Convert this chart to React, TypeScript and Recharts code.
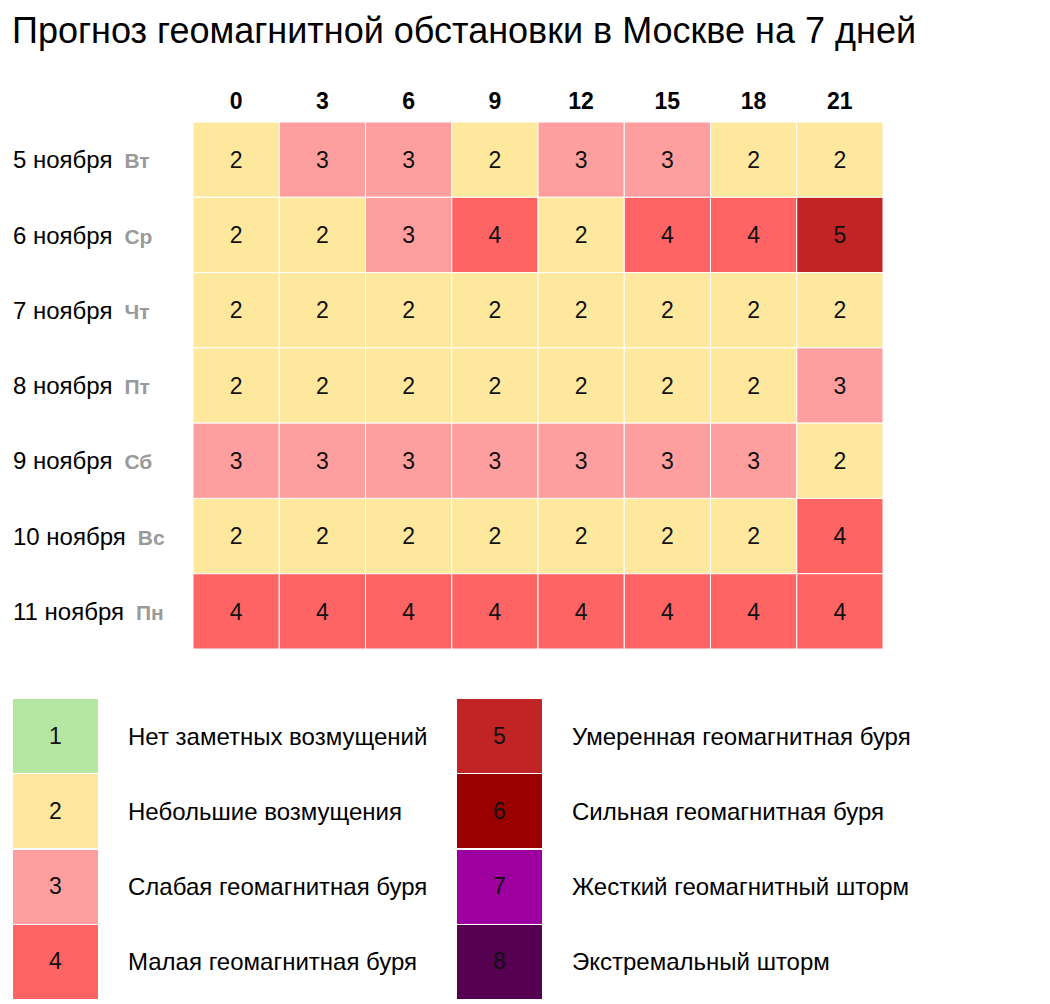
import { ScatterChart, Scatter, XAxis, YAxis } from "recharts";

const hours = [0, 3, 6, 9, 12, 15, 18, 21];
const dates = ["5 ноября", "6 ноября", "7 ноября", "8 ноября", "9 ноября", "10 ноября", "11 ноября"];
const weekdays = ["Вт", "Ср", "Чт", "Пт", "Сб", "Вс", "Пн"];

const nov5 = [2, 3, 3, 2, 3, 3, 2, 2];
const nov6 = [2, 2, 3, 4, 2, 4, 4, 5];
const nov7 = [2, 2, 2, 2, 2, 2, 2, 2];
const nov8 = [2, 2, 2, 2, 2, 2, 2, 3];
const nov9 = [3, 3, 3, 3, 3, 3, 3, 2];
const nov10 = [2, 2, 2, 2, 2, 2, 2, 4];
const nov11 = [4, 4, 4, 4, 4, 4, 4, 4];
const rows = [nov5, nov6, nov7, nov8, nov9, nov10, nov11];

const levels = [1, 2, 3, 4, 5, 6, 7, 8];
const levelNames = [
  "Нет заметных возмущений",
  "Небольшие возмущения",
  "Слабая геомагнитная буря",
  "Малая геомагнитная буря",
  "Умеренная геомагнитная буря",
  "Сильная геомагнитная буря",
  "Жесткий геомагнитный шторм",
  "Экстремальный шторм",
];
const levelColors = ["#b5e6a2", "#fee89e", "#ff9e9e", "#ff6464", "#c12424", "#9b0000", "#9d009f", "#560052"];

const data = rows.flatMap((vals, r) => vals.map((v, c) => ({ col: c, row: r, value: v })));

const FONT = "'Liberation Sans', Arial, Helvetica, sans-serif";
const W = 1050;
const H = 700;
const margin = { top: 82, right: 167, bottom: 51, left: 0 };
const yAxisW = 193;
const xAxisH = 40;
const cellW = (W - margin.left - margin.right - yAxisW) / hours.length;
const cellH = (H - margin.top - margin.bottom - xAxisH) / dates.length;

function Cell(props: any) {
  const { cx, cy, payload } = props;
  return (
    <g>
      <rect
        x={cx - cellW / 2}
        y={cy - cellH / 2}
        width={cellW}
        height={cellH}
        fill={levelColors[payload.value - 1]}
        stroke="#ffffff"
        strokeWidth={1}
      />
      <text x={cx} y={cy} textAnchor="middle" dy="0.36em" fontSize={23} fill="#111" fontFamily={FONT}>
        {payload.value}
      </text>
    </g>
  );
}

function HourTick(props: any) {
  const { x, y, payload } = props;
  return (
    <text x={x} y={y} dy={-5} textAnchor="middle" fontSize={23} fontWeight="bold" fill="#000" fontFamily={FONT}>
      {hours[payload.value]}
    </text>
  );
}

function DateTick(props: any) {
  const { y, payload } = props;
  const i = payload.value;
  return (
    <text x={13} y={y} dy="0.36em" textAnchor="start" fontSize={24} fill="#000" fontFamily={FONT}>
      <tspan>{dates[i]}</tspan>
      <tspan dx={12} fontSize={21} fontWeight="bold" fill="#9a9a9a">
        {weekdays[i]}
      </tspan>
    </text>
  );
}

function LegendItem({ i }: { i: number }) {
  const col = i < 4 ? 0 : 1;
  const row = i % 4;
  return (
    <div
      style={{
        position: "absolute",
        left: col === 0 ? 13 : 457,
        top: 699 + row * 75.3,
        height: 75,
        display: "flex",
        alignItems: "center",
      }}
    >
      <div
        style={{
          width: 85,
          height: 75,
          background: levelColors[i],
          display: "flex",
          alignItems: "center",
          justifyContent: "center",
          fontSize: 23,
          color: "#111",
          boxSizing: "border-box",
          borderBottom: "1px solid #fff",
        }}
      >
        {levels[i]}
      </div>
      <div style={{ marginLeft: 30, fontSize: 24, color: "#000", whiteSpace: "nowrap" }}>{levelNames[i]}</div>
    </div>
  );
}

export default function App() {
  return (
    <div
      style={{
        position: "absolute",
        left: 0,
        top: 0,
        width: W,
        height: 1004,
        background: "#fff",
        fontFamily: FONT,
        overflow: "hidden",
      }}
    >
      <div style={{ position: "absolute", left: 12, top: 10, fontSize: 36, color: "#000", whiteSpace: "nowrap" }}>
        Прогноз геомагнитной обстановки в Москве на 7 дней
      </div>
      <div style={{ position: "absolute", left: 0, top: 0 }}>
        <ScatterChart width={W} height={H} margin={margin}>
          <XAxis
            type="number"
            dataKey="col"
            orientation="top"
            height={xAxisH}
            domain={[-0.5, 7.5]}
            ticks={hours.map((_, i) => i)}
            tick={<HourTick />}
            axisLine={false}
            tickLine={false}
            interval={0}
          />
          <YAxis
            type="number"
            dataKey="row"
            width={yAxisW}
            domain={[-0.5, 6.5]}
            reversed
            ticks={dates.map((_, i) => i)}
            tick={<DateTick />}
            axisLine={false}
            tickLine={false}
            interval={0}
          />
          <Scatter data={data} shape={<Cell />} isAnimationActive={false} />
        </ScatterChart>
      </div>
      {levels.map((_, i) => (
        <LegendItem key={i} i={i} />
      ))}
    </div>
  );
}
